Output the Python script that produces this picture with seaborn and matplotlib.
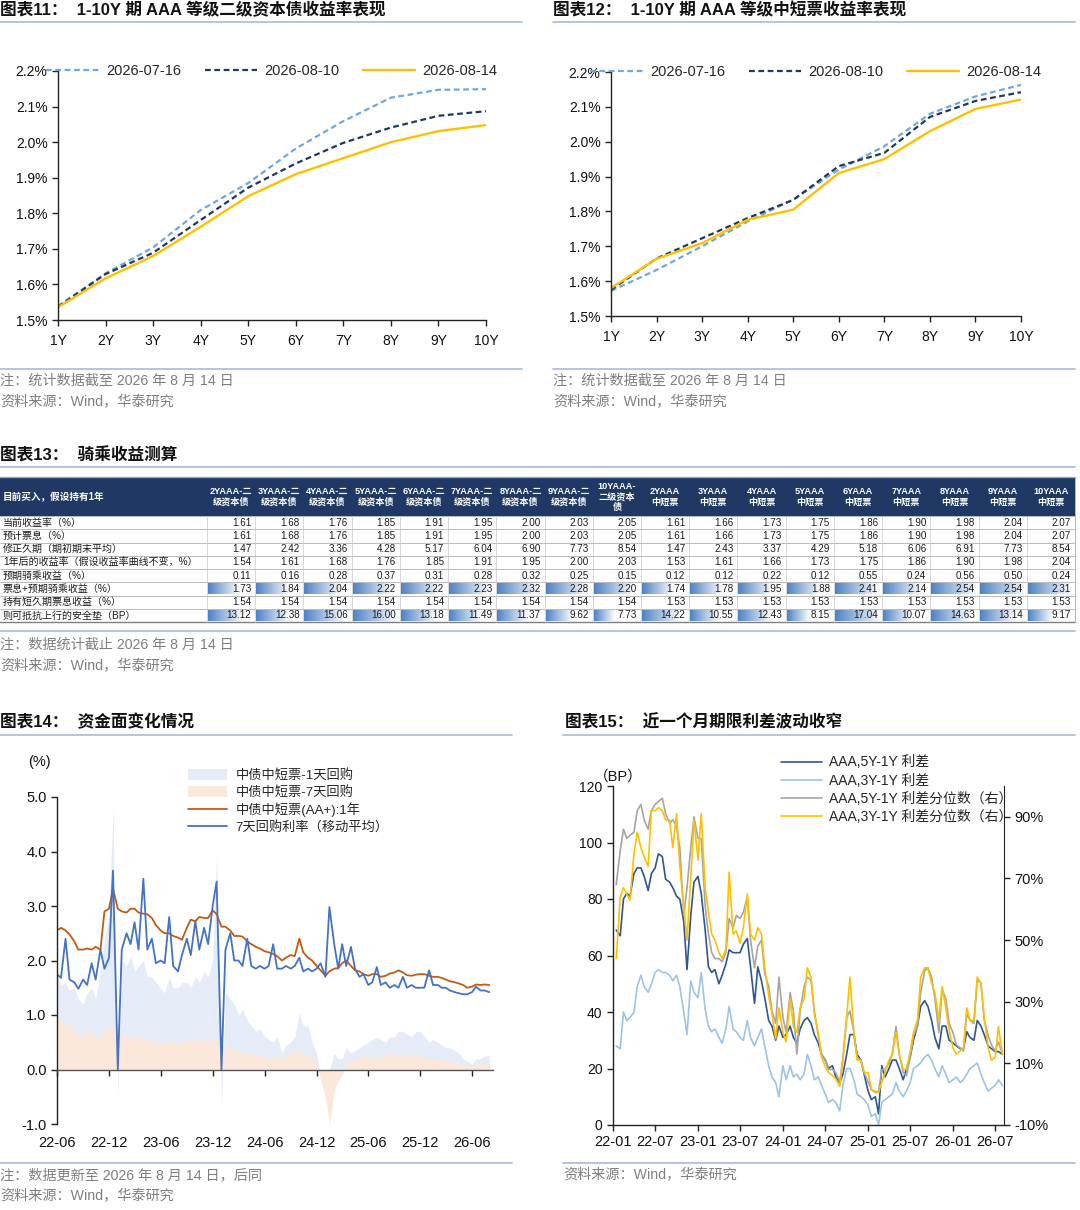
import numpy as np
import pandas as pd
import matplotlib
matplotlib.use('Agg')
import matplotlib.pyplot as plt
import matplotlib.dates as mdates
from matplotlib.patches import Rectangle
from matplotlib.colors import LinearSegmentedColormap
from matplotlib.ticker import MultipleLocator, FuncFormatter
import seaborn as sns

sns.set_style('ticks')
plt.rcParams['font.family'] = ['Liberation Sans', 'Noto Sans CJK SC']
plt.rcParams['axes.unicode_minus'] = False

# ---- chart 11 / 12 : yield curves (%)
tenors = ['1Y', '2Y', '3Y', '4Y', '5Y', '6Y', '7Y', '8Y', '9Y', '10Y']
tenor_years = [1, 2, 3, 4, 5, 6, 7, 8, 9, 10]
curve_dates = ['2026-07-16', '2026-08-10', '2026-08-14']

sub_0716 = [1.539, 1.631, 1.704, 1.809, 1.885, 1.982, 2.059, 2.125, 2.147, 2.149]
sub_0810 = [1.537, 1.629, 1.689, 1.781, 1.872, 1.940, 1.998, 2.041, 2.074, 2.087]
sub_0814 = [1.536, 1.617, 1.680, 1.762, 1.848, 1.910, 1.955, 2.000, 2.031, 2.048]

mtn_0716 = [1.572, 1.632, 1.700, 1.771, 1.834, 1.920, 1.987, 2.080, 2.130, 2.163]
mtn_0810 = [1.575, 1.665, 1.723, 1.781, 1.833, 1.930, 1.968, 2.071, 2.117, 2.142]
mtn_0814 = [1.580, 1.664, 1.709, 1.776, 1.805, 1.910, 1.950, 2.030, 2.094, 2.121]

# ---- chart 13 : riding yield table
table_cols = ['2YAAA-二\n级资本债', '3YAAA-二\n级资本债', '4YAAA-二\n级资本债', '5YAAA-二\n级资本债',
              '6YAAA-二\n级资本债', '7YAAA-二\n级资本债', '8YAAA-二\n级资本债', '9YAAA-二\n级资本债',
              '10YAAA-\n二级资本\n债', '2YAAA\n中短票', '3YAAA\n中短票', '4YAAA\n中短票', '5YAAA\n中短票',
              '6YAAA\n中短票', '7YAAA\n中短票', '8YAAA\n中短票', '9YAAA\n中短票', '10YAAA\n中短票']
row_labels = ['当前收益率（%）', '预计票息（%）', '修正久期（期初期末平均）',
              '1年后的收益率（假设收益率曲线不变，%）', '预期骑乘收益（%）',
              '票息+预期骑乘收益（%）', '持有短久期票息收益（%）', '则可抵抗上行的安全垫（BP）']
cur_yield = [1.61, 1.68, 1.76, 1.85, 1.91, 1.95, 2.00, 2.03, 2.05, 1.61, 1.66, 1.73, 1.75, 1.86, 1.90, 1.98, 2.04, 2.07]
coupon = [1.61, 1.68, 1.76, 1.85, 1.91, 1.95, 2.00, 2.03, 2.05, 1.61, 1.66, 1.73, 1.75, 1.86, 1.90, 1.98, 2.04, 2.07]
duration = [1.47, 2.42, 3.36, 4.28, 5.17, 6.04, 6.90, 7.73, 8.54, 1.47, 2.43, 3.37, 4.29, 5.18, 6.06, 6.91, 7.73, 8.54]
yield_1y_later = [1.54, 1.61, 1.68, 1.76, 1.85, 1.91, 1.95, 2.00, 2.03, 1.53, 1.61, 1.66, 1.73, 1.75, 1.86, 1.90, 1.98, 2.04]
roll_gain = [0.11, 0.16, 0.28, 0.37, 0.31, 0.28, 0.32, 0.25, 0.15, 0.12, 0.12, 0.22, 0.12, 0.55, 0.24, 0.56, 0.50, 0.24]
total_gain = [1.73, 1.84, 2.04, 2.22, 2.22, 2.23, 2.32, 2.28, 2.20, 1.74, 1.78, 1.95, 1.88, 2.41, 2.14, 2.54, 2.54, 2.31]
short_carry = [1.54, 1.54, 1.54, 1.54, 1.54, 1.54, 1.54, 1.54, 1.54, 1.53, 1.53, 1.53, 1.53, 1.53, 1.53, 1.53, 1.53, 1.53]
cushion_bp = [13.12, 12.38, 15.06, 16.00, 13.18, 11.49, 11.37, 9.62, 7.73, 14.22, 10.55, 12.43, 8.15, 17.04, 10.07, 14.63, 13.14, 9.17]

# ---- chart 14 : funding (%), semi-monthly 2022-06 .. 2026-08
dates14 = pd.date_range('2022-06-01', '2026-08-01', freq='SMS')
aa_1y = [2.55, 2.60, 2.55, 2.48, 2.35, 2.20, 2.20, 2.22, 2.20, 2.25, 2.20, 2.90, 2.95, 3.32,
         2.95, 2.90, 2.88, 2.95, 2.95, 2.88, 2.86, 2.85, 2.78, 2.65, 2.55, 2.50, 2.50, 2.45, 2.42, 2.38, 2.60, 2.75, 2.72, 2.80, 2.78, 2.78, 2.92, 2.85,
         2.62, 2.62, 2.55, 2.45, 2.45, 2.44, 2.35, 2.30, 2.25, 2.22, 2.17, 2.15, 2.12, 2.08, 2.00, 2.05, 2.10, 2.08, 2.40, 2.15, 2.05, 2.00, 1.90, 1.82,
         1.72, 1.80, 1.85, 1.86, 1.95, 2.00, 1.90, 1.82, 1.80, 1.75, 1.72, 1.75, 1.75, 1.70, 1.72, 1.76, 1.78, 1.82, 1.78, 1.73, 1.72, 1.74, 1.75, 1.75,
         1.72, 1.70, 1.70, 1.68, 1.65, 1.62, 1.60, 1.58, 1.55, 1.50, 1.52, 1.56, 1.55, 1.56, 1.55]
repo_7d = [1.75, 1.68, 2.40, 1.65, 1.60, 1.48, 1.65, 1.55, 1.95, 1.65, 2.20, 1.85, 2.05, 3.65,
           0.00, 2.20, 2.50, 2.30, 2.70, 2.20, 3.50, 2.20, 2.40, 1.95, 2.00, 1.95, 2.80, 1.90, 1.80, 2.10, 2.40, 2.10, 2.72, 2.20, 2.60, 2.30, 3.00, 3.45,
           0.00, 2.20, 2.50, 2.00, 2.00, 1.90, 2.40, 1.90, 1.85, 1.90, 1.85, 1.90, 2.30, 1.85, 1.85, 1.90, 1.85, 1.90, 2.05, 1.80, 1.85, 1.80, 1.85, 1.95,
           1.70, 2.98, 2.30, 1.85, 2.30, 1.90, 2.25, 1.85, 1.70, 1.75, 1.55, 1.60, 1.88, 1.55, 1.60, 1.50, 1.55, 1.50, 1.70, 1.50, 1.55, 1.50, 1.50, 1.50,
           1.82, 1.55, 1.55, 1.50, 1.50, 1.45, 1.42, 1.40, 1.38, 1.38, 1.42, 1.52, 1.45, 1.45, 1.42]
spread_1d = [1.70, 1.55, 1.60, 1.45, 1.50, 1.30, 1.20, 1.40, 1.50, 1.30, 1.80, 2.40, 2.80, 4.80,
             -0.50, 2.00, 1.90, 2.10, 1.80, 1.90, 2.00, 1.70, 1.70, 1.60, 1.50, 1.40, 1.70, 1.50, 1.50, 1.60, 1.60, 1.50, 1.70, 1.60, 1.80, 1.70, 2.00, 4.00,
             -0.70, 1.40, 1.30, 1.20, 1.00, 1.10, 0.90, 0.80, 0.70, 0.75, 0.60, 0.55, 0.50, 0.60, 0.30, 0.45, 0.50, 0.60, 1.05, 0.80, 0.80, 0.50, 0.30, -0.10,
             -0.30, 0.00, 0.30, 0.20, 0.20, 0.40, 0.30, 0.35, 0.40, 0.45, 0.50, 0.55, 0.60, 0.55, 0.50, 0.60, 0.60, 0.70, 0.70, 0.65, 0.60, 0.70, 0.70, 0.60,
             0.50, 0.55, 0.50, 0.45, 0.40, 0.40, 0.35, 0.30, 0.20, 0.15, 0.10, 0.20, 0.20, 0.25, 0.25]
spread_7d = [0.95, 0.90, 0.80, 0.85, 0.70, 0.65, 0.60, 0.70, 0.70, 0.60, 0.60, 0.70, 0.80, 0.75,
             0.65, 0.60, 0.62, 0.55, 0.60, 0.55, 0.60, 0.50, 0.55, 0.50, 0.50, 0.45, 0.55, 0.50, 0.45, 0.50, 0.50, 0.55, 0.55, 0.50, 0.55, 0.50, 0.60, 0.55,
             0.45, 0.40, 0.40, 0.35, 0.35, 0.30, 0.30, 0.30, 0.25, 0.30, 0.25, 0.20, 0.20, 0.25, 0.20, 0.25, 0.30, 0.35, 0.35, 0.30, 0.25, 0.20, 0.10, -0.20,
             -0.50, -1.00, -0.40, -0.20, -0.10, 0.10, 0.15, 0.20, 0.20, 0.25, 0.25, 0.20, 0.25, 0.20, 0.25, 0.30, 0.30, 0.25, 0.30, 0.25, 0.25, 0.30, 0.25, 0.20,
             0.20, 0.20, 0.20, 0.15, 0.15, 0.15, 0.12, 0.10, 0.10, 0.08, 0.05, 0.10, 0.10, 0.10, 0.10]

# ---- chart 15 : term spreads (BP) and percentiles (%), semi-monthly 2022-01 .. 2026-08
dates15 = pd.date_range('2022-01-15', '2026-08-01', freq='SMS')
spread_5y1y = [69,
               67, 80, 82, 81, 89, 91, 91, 88, 83, 89, 91, 96, 95, 87, 86, 84, 81, 80, 72, 55, 74, 86,
               88, 82, 69, 56, 54, 55, 50, 53, 57, 62, 61, 61, 61, 64, 66, 56, 43, 56, 51, 45, 37, 35, 30, 35,
               31, 32, 35, 31, 29, 34, 37, 38, 36, 32, 29, 25, 23, 20, 21, 17, 15, 18, 25, 32, 32, 25, 23, 18,
               12, 9, 10, 4, 21, 17, 20, 23, 23, 20, 16, 20, 24, 30, 35, 42, 44, 42, 37, 31, 27, 35, 35, 30,
               29, 28, 27, 27, 33, 31, 30, 37, 35, 32, 28, 27, 26, 26, 25]
spread_3y1y = [28,
               27, 40, 37, 38, 40, 49, 53, 49, 47, 50, 54, 55, 54, 54, 53, 51, 53, 49, 40, 32, 51, 47,
               45, 54, 41, 35, 33, 34, 31, 29, 34, 42, 34, 33, 31, 30, 37, 31, 28, 31, 34, 28, 21, 17, 15, 10,
               21, 16, 21, 17, 18, 16, 18, 25, 21, 16, 17, 14, 11, 8, 9, 8, 5, 14, 20, 20, 16, 11, 10, 9,
               7, 3, 4, 0, 8, 9, 10, 11, 15, 12, 10, 12, 15, 20, 21, 22, 24, 25, 23, 20, 17, 21, 18, 15,
               16, 17, 15, 16, 18, 20, 21, 22, 18, 15, 12, 13, 14, 16, 14]
pct_5y1y = [68,
            79, 86, 83, 84, 85, 92, 94, 89, 86, 92, 94, 95, 96, 91, 88, 89, 87, 80, 58, 67, 80, 90,
            83, 83, 61, 52, 46, 44, 44, 43, 46, 57, 54, 58, 57, 59, 64, 50, 41, 48, 50, 39, 35, 27, 23, 38,
            25, 20, 33, 27, 13, 27, 35, 38, 37, 27, 19, 13, 11, 8, 8, 7, 4, 12, 25, 27, 20, 12, 11, 7,
            4, 1.5, 0.5, 1, 8, 8, 10, 13, 22, 13, 7, 6, 12, 19, 22, 33, 40, 41, 38, 31, 20, 34, 31, 23,
            20, 16, 15, 14, 26, 24, 23, 37, 36, 24, 19, 16, 14, 17, 13]
pct_3y1y = [44,
            64, 67, 65, 63, 78, 85, 80, 77, 74, 92, 92, 93, 92, 89, 89, 80, 91, 74, 61, 50, 70, 89,
            76, 91, 67, 59, 52, 50, 46, 44, 47, 72, 52, 53, 49, 54, 65, 52, 50, 54, 52, 41, 32, 26, 18, 28,
            20, 17, 31, 22, 20, 28, 31, 41, 38, 26, 20, 12, 9, 7, 6, 5, 2.5, 11, 25, 38, 20, 11, 11, 7,
            7, 1.5, 1, 0.5, 4, 7, 11, 13, 20, 13, 8, 8, 14, 20, 24, 38, 41, 41, 36, 33, 24, 35, 28, 21,
            15, 13, 14, 15, 28, 24, 24, 38, 36, 25, 15, 11, 12, 22, 13]

W, H = 1080, 1210
fig = plt.figure(figsize=(W / 100, H / 100), dpi=100)


def axes_px(l, t, r, b):
    return fig.add_axes([l / W, 1 - b / H, (r - l) / W, (b - t) / H])


def base_style(ax, size=10):
    sns.despine(ax=ax)
    for s in ['left', 'bottom']:
        ax.spines[s].set_color('#222222')
        ax.spines[s].set_linewidth(1.0)
    ax.tick_params(direction='out', length=4, width=1, color='#222222', labelsize=size, labelcolor='#111111')
    ax.set_xlabel('')
    ax.set_ylabel('')


def curve_chart(ax, s1, s2, s3):
    sns.lineplot(x=tenor_years, y=s1, ax=ax, color='#6FA8DC', linewidth=1.6, label=curve_dates[0])
    ax.lines[-1].set_dashes([2.6, 1.6])
    sns.lineplot(x=tenor_years, y=s2, ax=ax, color='#1F3864', linewidth=1.6, label=curve_dates[1])
    ax.lines[-1].set_dashes([2.6, 1.6])
    sns.lineplot(x=tenor_years, y=s3, ax=ax, color='#FFC000', linewidth=1.7, label=curve_dates[2])
    ax.set_xlim(1, 10)
    ax.set_ylim(1.5, 2.2)
    ax.set_xticks(tenor_years, tenors)
    ax.yaxis.set_major_locator(MultipleLocator(0.1))
    ax.yaxis.set_major_formatter(FuncFormatter(lambda v, p: f'{v:.1f}%'))
    base_style(ax)
    ax.tick_params(axis='x', pad=6)
    ax.legend(loc='center', bbox_to_anchor=(0.5, 1.0), ncol=3, frameon=False, fontsize=10.5,
              handlelength=3.6, columnspacing=1.6, handletextpad=0.5)


# chart 11, chart 12
ax11 = axes_px(58, 71, 486, 320)
curve_chart(ax11, sub_0716, sub_0810, sub_0814)
ax12 = axes_px(611, 72, 1021, 316)
curve_chart(ax12, mtn_0716, mtn_0810, mtn_0814)

# chart 14
ax14 = axes_px(57, 797, 493, 1124)
ax14.fill_between(dates14, 0, spread_1d, color='#E6ECF7', linewidth=0, label='中债中短票-1天回购')
ax14.fill_between(dates14, 0, spread_7d, color='#FBE8DA', linewidth=0, label='中债中短票-7天回购')
sns.lineplot(x=dates14, y=aa_1y, ax=ax14, color='#C55A11', linewidth=1.3, label='中债中短票(AA+):1年')
sns.lineplot(x=dates14, y=repo_7d, ax=ax14, color='#4472C4', linewidth=1.3, label='7天回购利率（移动平均）')
ax14.set_xlim(pd.Timestamp('2022-06-01'), pd.Timestamp('2026-08-14'))
ax14.set_ylim(-1, 5)
ax14.yaxis.set_major_locator(MultipleLocator(1))
ax14.yaxis.set_major_formatter(FuncFormatter(lambda v, p: f'{v:.1f}'))
ax14.xaxis.set_major_locator(mdates.MonthLocator(bymonth=[6, 12]))
ax14.xaxis.set_major_formatter(mdates.DateFormatter('%y-%m'))
base_style(ax14, 10.5)
ax14.spines['bottom'].set_position(('data', 0))
ax14.spines['bottom'].set_color('#555555')
ax14.tick_params(axis='x', pad=44)
ax14.legend(loc='upper left', bbox_to_anchor=(176 / W, 1 - 757 / H), bbox_transform=fig.transFigure,
            frameon=False, fontsize=9.5, handlelength=3.0, handleheight=0.9, labelspacing=0.3, handletextpad=0.6)

# chart 15
ax15 = axes_px(613, 786, 1004, 1125)
sns.lineplot(x=dates15, y=spread_5y1y, ax=ax15, color='#2F5597', linewidth=1.2, label='AAA,5Y-1Y 利差')
sns.lineplot(x=dates15, y=spread_3y1y, ax=ax15, color='#9DC3E6', linewidth=1.2, label='AAA,3Y-1Y 利差')
ax15r = ax15.twinx()
sns.lineplot(x=dates15, y=pct_5y1y, ax=ax15r, color='#A5A5A5', linewidth=1.2, label='AAA,5Y-1Y 利差分位数（右）')
sns.lineplot(x=dates15, y=pct_3y1y, ax=ax15r, color='#FFC000', linewidth=1.2, label='AAA,3Y-1Y 利差分位数（右）')
ax15.set_xlim(pd.Timestamp('2022-01-01'), pd.Timestamp('2026-08-08'))
ax15.set_ylim(0, 120)
ax15r.set_ylim(-10, 100)
ax15.yaxis.set_major_locator(MultipleLocator(20))
ax15r.set_yticks([-10, 10, 30, 50, 70, 90])
ax15r.yaxis.set_major_formatter(FuncFormatter(lambda v, p: f'{v:.0f}%'))
ax15.xaxis.set_major_locator(mdates.MonthLocator(bymonth=[1, 7]))
ax15.xaxis.set_major_formatter(mdates.DateFormatter('%y-%m'))
base_style(ax15)
for s in ['left', 'top', 'bottom']:
    ax15r.spines[s].set_visible(False)
ax15r.spines['right'].set_color('#222222')
ax15r.tick_params(direction='out', length=4, width=1, color='#222222', labelsize=10.5, labelcolor='#111111')
ax15r.set_ylabel('')
ax15.tick_params(axis='x', labelsize=10.5)
h1, l1 = ax15.get_legend_handles_labels()
h2, l2 = ax15r.get_legend_handles_labels()
if ax15.get_legend():
    ax15.get_legend().remove()
ax15r.legend(h1 + h2, l1 + l2, loc='upper left', bbox_to_anchor=(768 / W, 1 - 743 / H),
             bbox_transform=fig.transFigure, frameon=False, fontsize=10, handlelength=3.0,
             labelspacing=0.3, handletextpad=0.5)

# overlay canvas in pixel units: titles, rules, notes, table
cv = fig.add_axes([0, 0, 1, 1], facecolor='none')
cv.axis('off')
cv.set_xlim(0, W)
cv.set_ylim(H, 0)
cv.set_autoscale_on(False)

rule_c = '#AFC1D9'
note_c = '#7F7F7F'


def title(x, y, s):
    cv.text(x, y, s, fontsize=12, weight='bold', va='center', ha='left', color='#111111')


def rule(x0, x1, y):
    cv.plot([x0, x1], [y, y], color=rule_c, linewidth=1.3)


def note(x, y, s):
    cv.text(x, y, s, fontsize=10.2, va='center', ha='left', color=note_c)


title(0, 10, '图表11：  1-10Y 期 AAA 等级二级资本债收益率表现')
title(553, 10, '图表12：  1-10Y 期 AAA 等级中短票收益率表现')
rule(0, 522, 22)
rule(553, 1075, 22)
rule(0, 522, 369)
rule(553, 1075, 369)
note(0, 381, '注：统计数据截至 2026 年 8 月 14 日')
note(0, 402, '资料来源：Wind，华泰研究')
note(553, 381, '注：统计数据截至 2026 年 8 月 14 日')
note(553, 402, '资料来源：Wind，华泰研究')

title(0, 455, '图表13：  骑乘收益测算')
rule(0, 1075, 467)
rule(0, 1075, 631)
note(0, 645, '注：数据统计截止 2026 年 8 月 14 日')
note(0, 666, '资料来源：Wind，华泰研究')

title(0, 722, '图表14：  资金面变化情况')
title(565, 722, '图表15：  近一个月期限利差波动收窄')
rule(0, 512, 735)
rule(563, 1075, 735)
rule(0, 512, 1163)
rule(563, 1075, 1163)
note(0, 1175, '注：数据更新至 2026 年 8 月 14 日，后同')
note(0, 1196, '资料来源：Wind，华泰研究')
note(563, 1175, '资料来源：Wind，华泰研究')
cv.text(28, 762, '(%)', fontsize=10.5, va='center', color='#111111')
cv.text(594, 777, '（BP）', fontsize=10.5, va='center', color='#111111')

# table
tab_l, tab_r, head_t, head_b, tab_b = 0, 1075, 478, 516, 622
first_w = 207
col_w = (tab_r - first_w) / len(table_cols)
row_h = (tab_b - head_b) / len(row_labels)
cv.add_patch(Rectangle((tab_l, head_t), tab_r - tab_l, head_b - head_t, color='#1F3864', linewidth=0))
cv.plot([tab_l, tab_r], [head_t - 1.5, head_t - 1.5], color='#8EA9C8', linewidth=1.0)
cv.text(3, (head_t + head_b) / 2, '目前买入，假设持有1年', fontsize=6.9, weight='bold', color='white', va='center')
for j, name in enumerate(table_cols):
    cv.text(first_w + (j + 0.5) * col_w, (head_t + head_b) / 2, name, fontsize=6.6, weight='bold',
            color='white', ha='center', va='center', linespacing=1.2)

table_rows = [cur_yield, coupon, duration, yield_1y_later, roll_gain, total_gain, short_carry, cushion_bp]
bar_rows = [5, 7]
bar_cmap = LinearSegmentedColormap.from_list('databar', ['#4F83C4', '#FFFFFF'])
grad = np.linspace(0, 1, 64).reshape(1, -1)
for i, (lab, vals) in enumerate(zip(row_labels, table_rows)):
    y0 = head_b + i * row_h
    yc = y0 + row_h / 2
    cv.text(3, yc, lab, fontsize=7.2, va='center', color='#1A1A1A')
    vmax = max(vals)
    for j, v in enumerate(vals):
        x0 = first_w + j * col_w
        if i in bar_rows:
            w = (col_w - 2) * v / vmax
            cv.imshow(grad, extent=(x0 + 1, x0 + 1 + w, y0 + row_h - 1.2, y0 + 1.2), cmap=bar_cmap,
                      aspect='auto', zorder=1, interpolation='bilinear')
        cv.text(x0 + col_w - 4, yc, f'{v:.2f}', fontsize=7.1, ha='right', va='center', color='#1A1A1A', zorder=3)
for i in range(len(row_labels) + 1):
    y = head_b + i * row_h
    cv.plot([tab_l, tab_r], [y, y], color='#B0B0B0' if i < len(row_labels) else '#7F7F7F',
            linewidth=0.6 if i < len(row_labels) else 1.0, zorder=2)
for j in range(len(table_cols) + 1):
    x = first_w + j * col_w
    cv.plot([x, x], [head_b, tab_b], color='#C8C8C8', linewidth=0.5, zorder=2)
cv.plot([tab_r, tab_r], [head_t, tab_b], color='#B0B0B0', linewidth=0.6, zorder=2)

cv.set_xlim(0, W)
cv.set_ylim(H, 0)

fig.savefig('out.png', dpi=100)
